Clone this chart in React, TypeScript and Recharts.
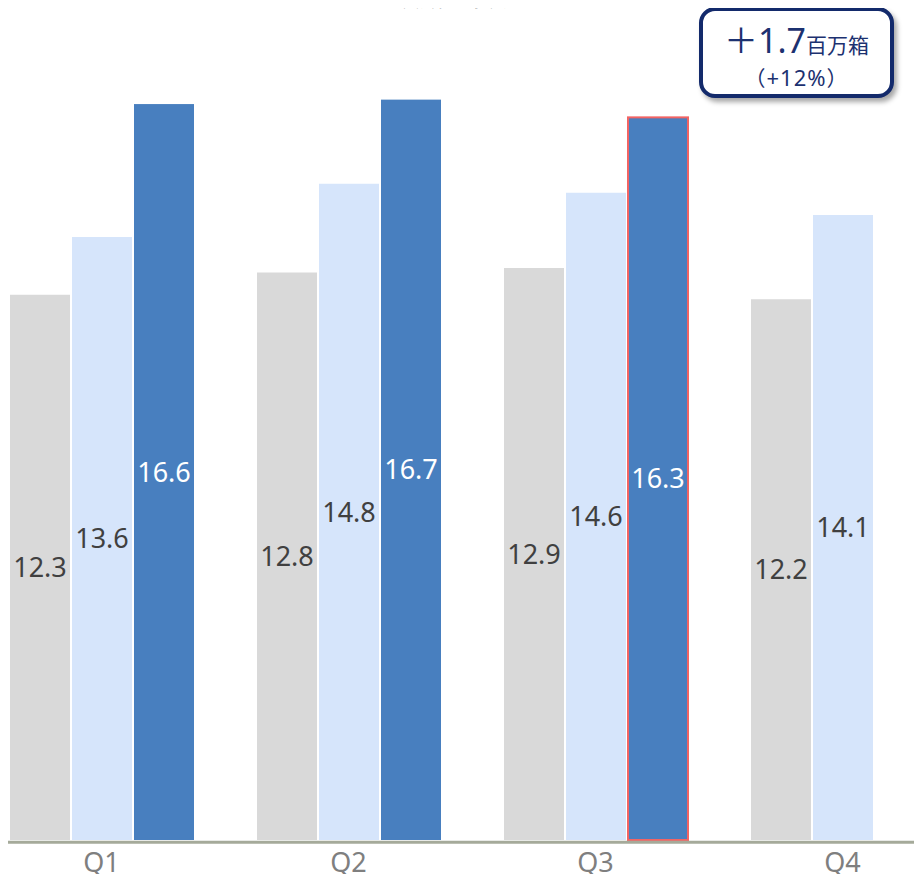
import { Bar, BarChart, LabelList, ReferenceLine, XAxis, YAxis } from "recharts";

const quarters = ["Q1", "Q2", "Q3", "Q4"];
const twoYearsAgo = [12.3, 12.8, 12.9, 12.2];
const lastYear = [13.6, 14.8, 14.6, 14.1];
const thisYear: (number | null)[] = [16.6, 16.7, 16.3, null];

const data = quarters.map((q, i) => ({
  q,
  a: twoYearsAgo[i],
  b: lastYear[i],
  c: thisYear[i],
}));

const FONT = "'Noto Sans', 'Noto Sans CJK JP', sans-serif";
const CJK = "'Noto Sans CJK JP', sans-serif";

export default function App() {
  return (
    <div
      style={{
        position: "relative",
        width: 922,
        height: 882,
        margin: -8,
        overflow: "hidden",
        background: "#fff",
        fontFamily: FONT,
      }}
    >
      {/* title sits mostly above the crop, as in the source slide */}
      <div
        style={{
          position: "absolute",
          left: 400,
          top: -29,
          width: 145,
          textAlign: "center",
          fontSize: 36,
          lineHeight: "36px",
          fontWeight: 700,
          color: "#595959",
          fontFamily: CJK,
        }}
      >
        販売数量
      </div>
      <div style={{ position: "absolute", left: -22, top: 0 }}>
        <BarChart
          width={988}
          height={882}
          data={data}
          margin={{ top: 42, right: 0, bottom: 12, left: 0 }}
          barSize={60}
          barGap={2}
        >
          <XAxis
            dataKey="q"
            height={30}
            axisLine={false}
            tickLine={false}
            tickSize={0}
            tickMargin={13}
            tick={{ fill: "#7f7f7f", fontSize: 27, fontFamily: FONT }}
          />
          <YAxis hide domain={[0, 18]} />
          <Bar dataKey="a" fill="#d9d9d9" isAnimationActive={false}>
            <LabelList
              dataKey="a"
              position="center"
              fill="#404040"
              style={{ fontSize: 27, fontFamily: FONT }}
            />
          </Bar>
          <Bar dataKey="b" fill="#d6e5fb" isAnimationActive={false}>
            <LabelList
              dataKey="b"
              position="center"
              fill="#404040"
              style={{ fontSize: 27, fontFamily: FONT }}
            />
          </Bar>
          <Bar
            dataKey="c"
            fill="#487fbf"
            isAnimationActive={false}
            shape={(props: any) => {
              const hot = props.payload.q === "Q3";
              return (
                <rect
                  x={props.x}
                  y={props.y}
                  width={props.width}
                  height={props.height}
                  fill="#487fbf"
                  stroke={hot ? "#f26464" : "none"}
                  strokeWidth={hot ? 2 : 0}
                />
              );
            }}
          >
            <LabelList
              dataKey="c"
              position="center"
              fill="#ffffff"
              style={{ fontSize: 27, fontFamily: FONT }}
            />
          </Bar>
          <ReferenceLine
            y={-0.05}
            stroke="#a5aa9a"
            strokeWidth={3}
            ifOverflow="visible"
          />
        </BarChart>
      </div>
      <div
        style={{
          position: "absolute",
          left: 699,
          top: 7,
          width: 195,
          height: 91,
          boxSizing: "border-box",
          border: "4px solid #132a6b",
          borderRadius: 16,
          background: "#fff",
          boxShadow: "3px 4px 5px rgba(0,0,0,0.35)",
          color: "#1c3170",
          textAlign: "center",
        }}
      >
        <div style={{ marginTop: 11, lineHeight: "36px", whiteSpace: "nowrap" }}>
          <span style={{ fontSize: 34 }}>＋1.7</span>
          <span style={{ fontSize: 21, fontFamily: CJK }}>百万箱</span>
        </div>
        <div
          style={{
            fontSize: 21,
            lineHeight: "24px",
            whiteSpace: "nowrap",
            fontFamily: CJK,
            letterSpacing: 1,
          }}
        >
          <span>（</span>
          <span style={{ fontFamily: FONT, fontSize: 22 }}>+12%</span>
          <span>）</span>
        </div>
      </div>
    </div>
  );
}
